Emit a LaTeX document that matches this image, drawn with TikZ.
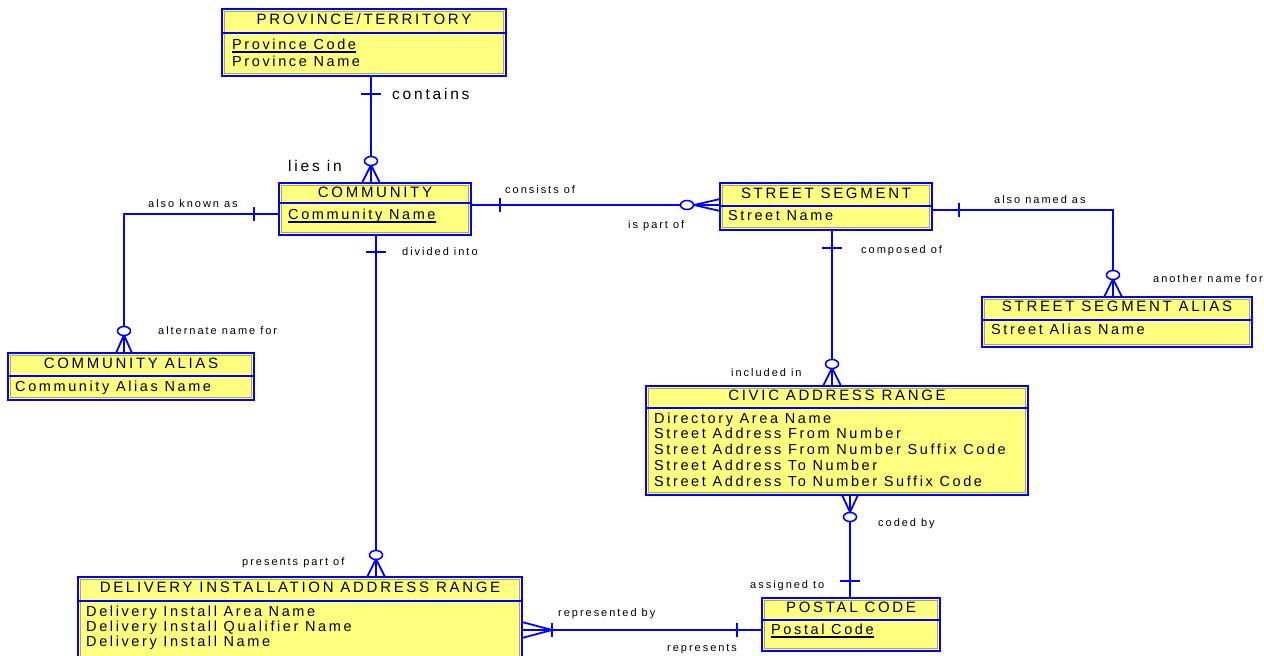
\documentclass[tikz,border=0pt]{standalone}
\usepackage{fontspec}
\setmainfont{Liberation Sans}[LetterSpace=18]
\usetikzlibrary{calc}
\definecolor{erblue}{RGB}{0,0,255}
\definecolor{erfill}{RGB}{255,255,128}
\definecolor{erbevel}{RGB}{165,165,110}

% entity box: name, x1, y1, x2, y2, y of the line under the title
\newcommand{\entity}[6]{%
  \fill[erfill] (#2,#3) rectangle (#4,#5);
  \draw[erbevel, line width=1.4pt] ($(#2,#3)+(2.4,2.4)$) rectangle ($(#4,#5)+(-2.4,-2.4)$);
  \draw[erblue, line width=1.3pt] (#2,#6) -- (#4,#6);
  \node[draw=erblue, line width=2pt, inner sep=0pt, outer sep=0pt, anchor=north west,
        minimum width={(#4-#2)*1pt}, minimum height={(#5-#3)*1pt}] (#1) at (#2,#3) {};%
}
% "one" bar across a vertical line (#2 = shift along the line)
\newcommand{\barH}[2]{\draw[rel] ([yshift=#2]#1) ++(-10pt,0) -- ++(20pt,0);}
% "one" bar across a horizontal line
\newcommand{\barV}[2]{\draw[rel] ([xshift=#2]#1) ++(0,-7pt) -- ++(0,14pt);}
% zero-or-many end entering a top edge at #1, half spread #2
\newcommand{\footDown}[2]{%
  \draw[rel] ([yshift=18pt]#1) -- ([xshift=-#2]#1) ([yshift=18pt]#1) -- ([xshift=#2]#1);
  \draw[ring] ([yshift=22pt]#1) ellipse [x radius=6.5pt, y radius=4.5pt];}
% zero-or-many end leaving a bottom edge at #1
\newcommand{\footUp}[2]{%
  \draw[rel] ([yshift=-17pt]#1) -- ([xshift=-#2]#1) ([yshift=-17pt]#1) -- ([xshift=#2]#1);
  \draw[ring] ([yshift=-22pt]#1) ellipse [x radius=6.5pt, y radius=4.5pt];}

\begin{document}
\begin{tikzpicture}[x=1pt,y=-1pt,
  rel/.style={draw=erblue, line width=1.8pt},
  ring/.style={draw=erblue, line width=1.5pt, fill=white},
  etitle/.style={font=\fontsize{15}{18}\selectfont, inner sep=0pt, anchor=base},
  attr/.style={font=\fontsize{14.5}{17}\selectfont, inner sep=0pt, anchor=base west},
  role/.style={font=\fontsize{11}{13}\selectfont, inner sep=0pt, anchor=base west},
  bigrole/.style={font=\fontsize{15.5}{18}\selectfont, inner sep=0pt, anchor=base west},
  keyline/.style={draw=black, line width=1.1pt},
]
\fill[white] (0,0) rectangle (1264,656);
\useasboundingbox (0,0) rectangle (1264,656);

% ---------- entities ----------
\entity{prov}{222}{9}{506}{76}{33}
\node[etitle] (prov-t) at (364,24.5) {PROVINCE/TERRITORY};
\node[attr] (prov-k) at (232,49.5) {Province Code};
\node[attr] (prov-a1) at (232,66.5) {Province Name};
\draw[keyline] ([yshift=-2.5pt]prov-k.base west) -- ([yshift=-2.5pt]prov-k.base east);

\entity{comm}{279}{183}{471}{235}{203}
\node[etitle] (comm-t) at (375,197.5) {COMMUNITY};
\node[attr] (comm-k) at (288,219.5) {Community Name};
\draw[keyline] ([yshift=-2.5pt]comm-k.base west) -- ([yshift=-2.5pt]comm-k.base east);

\entity{calias}{8}{353}{254}{400}{376}
\node[etitle] (calias-t) at (131,368.5) {COMMUNITY ALIAS};
\node[attr] (calias-a1) at (15,391.5) {Community Alias Name};

\entity{street}{720}{183}{932}{230}{206}
\node[etitle] (street-t) at (826,198.5) {STREET SEGMENT};
\node[attr] (street-a1) at (728,220.5) {Street Name};

\entity{salias}{982}{297}{1252}{347}{320}
\node[etitle] (salias-t) at (1117,311.5) {STREET SEGMENT ALIAS};
\node[attr] (salias-a1) at (991,334.5) {Street Alias Name};

\entity{civic}{646}{386}{1028}{495}{408}
\node[etitle] (civic-t) at (837,400.5) {CIVIC ADDRESS RANGE};
\node[attr] (civic-a1) at (654,423.5) {Directory Area Name};
\node[attr] (civic-a2) at (654,438.5) {Street Address From Number};
\node[attr] (civic-a3) at (654,454.5) {Street Address From Number Suffix Code};
\node[attr] (civic-a4) at (654,470.5) {Street Address To Number};
\node[attr] (civic-a5) at (654,486.5) {Street Address To Number Suffix Code};

\entity{deliv}{78}{577}{522}{665}{601}
\node[etitle] (deliv-t) at (300,592.5) {DELIVERY INSTALLATION ADDRESS RANGE};
\node[attr] (deliv-a1) at (86,616.5) {Delivery Install Area Name};
\node[attr] (deliv-a2) at (86,631.5) {Delivery Install Qualifier Name};
\node[attr] (deliv-a3) at (86,646.5) {Delivery Install Name};

\entity{postal}{762}{598}{940}{651}{620}
\node[etitle] (postal-t) at (851,612.5) {POSTAL CODE};
\node[attr] (postal-k) at (771,634.5) {Postal Code};
\draw[keyline] ([yshift=-2.5pt]postal-k.base west) -- ([yshift=-2.5pt]postal-k.base east);

% ---------- connector end points ----------
\coordinate (c1a) at ([xshift=7pt]prov.south);
\coordinate (c1b) at ([xshift=-4pt]comm.north);
\coordinate (c2a) at ([yshift=4pt]comm.east);
\coordinate (c2b) at ([yshift=1.5pt]street.west);
\coordinate (c3a) at ([yshift=-5pt]comm.west);
\coordinate (c3b) at ([xshift=-7pt]calias.north);
\coordinate (c4a) at ([xshift=1pt]comm.south);
\coordinate (c4b) at ([xshift=76pt]deliv.north);
\coordinate (c5a) at ([xshift=6pt]street.south);
\coordinate (c5b) at ([xshift=-5pt]civic.north);
\coordinate (c6a) at ([yshift=-3.5pt]street.east);
\coordinate (c6b) at ([xshift=-4pt]salias.north);
\coordinate (c7a) at ([xshift=13pt]civic.south);
\coordinate (c7b) at ([xshift=-1pt]postal.north);
\coordinate (c8a) at ([yshift=-9pt]deliv.east);
\coordinate (c8b) at ([yshift=-5.5pt]postal.west);

% ---------- relationship lines ----------
\draw[rel] (c1a) -- (c1b);
\draw[rel] (c2a) -- (c2b);
\draw[rel] (c3a) -| (c3b);
\draw[rel] (c4a) -- (c4b);
\draw[rel] (c5a) -- (c5b);
\draw[rel] (c6a) -| (c6b);
\draw[rel] (c7a) -- (c7b);
\draw[rel] (c8a) -- (c8b);

% one-ends
\barH{c1a}{-18pt}
\barV{c2a}{29pt}
\barV{c3a}{-25pt}
\barH{c4a}{-17pt}
\barH{c5a}{-18pt}
\barV{c6a}{27pt}
\barH{c7b}{17pt}
\barV{c8a}{30pt}
\barV{c8b}{-25pt}

% many-ends
\footDown{c1b}{9pt}
\footDown{c3b}{8pt}
\footDown{c4b}{9pt}
\footDown{c5b}{9pt}
\footDown{c6b}{9pt}
\footUp{c7a}{8pt}
\draw[rel] ([xshift=-26pt]c2b) -- ([yshift=6pt]c2b) ([xshift=-26pt]c2b) -- ([yshift=-6pt]c2b);
\draw[ring] ([xshift=-33pt]c2b) ellipse [x radius=6.5pt, y radius=4.5pt];
\draw[rel] ([xshift=30pt]c8a) -- ([yshift=8pt]c8a) ([xshift=30pt]c8a) -- ([yshift=-8pt]c8a);

% ---------- role names ----------
\node[bigrole] (r-contains) at (392,99) {contains};
\node[bigrole] (r-liesin) at (288,171) {lies in};
\node[role] (r-consists) at (505,193) {consists of};
\node[role] (r-ispart) at (628,228) {is part of};
\node[role] (r-aka) at (148,207) {also known as};
\node[role] (r-alt) at (158,334) {alternate name for};
\node[role] (r-divided) at (402,255) {divided into};
\node[role] (r-presents) at (242,565) {presents part of};
\node[role] (r-composed) at (861,253) {composed of};
\node[role] (r-named) at (994,203) {also named as};
\node[role] (r-another) at (1153,282) {another name for};
\node[role] (r-included) at (731,376) {included in};
\node[role] (r-coded) at (878,526) {coded by};
\node[role] (r-assigned) at (750,588) {assigned to};
\node[role] (r-repby) at (558,616) {represented by};
\node[role] (r-reps) at (667,651) {represents};
\end{tikzpicture}
\end{document}
